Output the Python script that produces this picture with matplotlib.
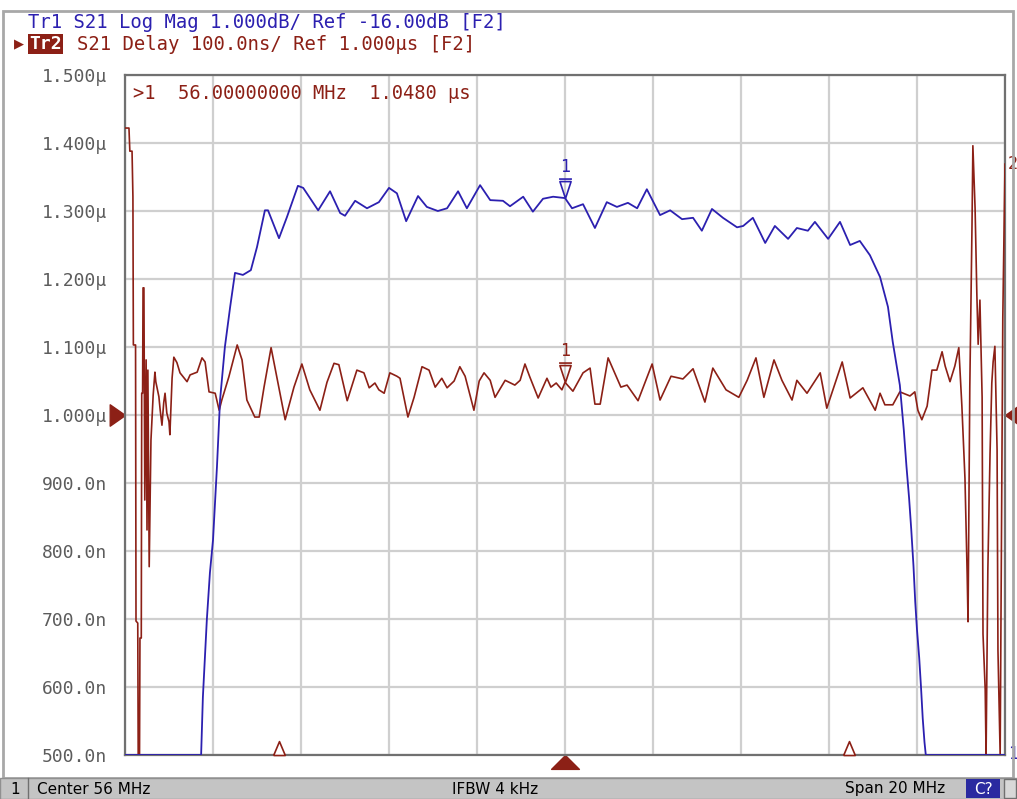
import matplotlib.pyplot as plt
import numpy as np
from matplotlib.patches import Rectangle
from matplotlib.path import Path

# Tr1: S21 log magnitude (dB)
mag_freq = [46.00, 47.73, 47.77, 47.86, 47.93, 48.00, 48.09, 48.16, 48.27, 48.39,
            48.50, 48.68, 48.86, 49.00, 49.18, 49.25, 49.50, 49.68, 49.93, 50.05,
            50.39, 50.66, 50.89, 51.00, 51.23, 51.50, 51.77, 52.00, 52.18, 52.39,
            52.66, 52.86, 53.11, 53.32, 53.57, 53.77, 54.07, 54.30, 54.59, 54.75,
            55.05, 55.27, 55.50, 55.73, 56.00, 56.16, 56.41, 56.68, 56.95, 57.18,
            57.43, 57.64, 57.86, 58.16, 58.39, 58.66, 58.91, 59.11, 59.34, 59.59,
            59.91, 60.05, 60.27, 60.55, 60.77, 61.07, 61.27, 61.52, 61.68, 61.98,
            62.25, 62.48, 62.70, 62.93, 63.16, 63.34, 63.45, 63.61, 63.70, 63.76,
            63.82, 63.87, 63.92, 63.96, 64.00, 64.05, 64.09, 64.13, 64.17, 64.20,
            66.00]
mag_db = [-21.00, -21.00, -20.15, -19.01, -18.32, -17.84, -16.76, -15.78, -15.00, -14.41,
          -13.91, -13.94, -13.87, -13.53, -12.99, -12.99, -13.40, -13.09, -12.63, -12.66,
          -12.99, -12.71, -13.03, -13.07, -12.85, -12.96, -12.87, -12.66, -12.74, -13.15,
          -12.78, -12.94, -13.00, -12.96, -12.71, -12.96, -12.62, -12.84, -12.85, -12.93,
          -12.79, -13.01, -12.82, -12.79, -12.81, -12.96, -12.90, -13.25, -12.87, -12.94,
          -12.88, -12.96, -12.68, -13.06, -12.99, -13.12, -13.10, -13.29, -12.97, -13.10,
          -13.24, -13.22, -13.10, -13.47, -13.22, -13.41, -13.25, -13.29, -13.16, -13.41,
          -13.16, -13.50, -13.44, -13.65, -13.97, -14.41, -14.93, -15.56, -16.22, -16.75,
          -17.22, -17.69, -18.22, -18.75, -19.16, -19.57, -19.99, -20.46, -20.81, -21.00,
          -21.00]

# Tr2: S21 group delay (ns)
delay_freq = [46.00, 46.09, 46.11, 46.16, 46.18, 46.19, 46.24, 46.25, 46.29, 46.30,
              46.33, 46.34, 46.37, 46.38, 46.40, 46.41, 46.43, 46.45, 46.48, 46.50,
              46.52, 46.55, 46.59, 46.64, 46.68, 46.70, 46.77, 46.80, 46.84, 46.88,
              46.91, 46.95, 47.00, 47.02, 47.07, 47.11, 47.18, 47.25, 47.41, 47.48,
              47.64, 47.75, 47.82, 47.91, 48.05, 48.14, 48.20, 48.36, 48.55, 48.66,
              48.77, 48.95, 49.05, 49.16, 49.32, 49.45, 49.64, 49.84, 50.02, 50.20,
              50.43, 50.59, 50.75, 50.86, 51.05, 51.27, 51.43, 51.55, 51.68, 51.77,
              51.89, 52.02, 52.18, 52.25, 52.43, 52.57, 52.75, 52.91, 53.05, 53.20,
              53.32, 53.48, 53.61, 53.73, 53.93, 54.05, 54.16, 54.30, 54.41, 54.64,
              54.86, 54.98, 55.09, 55.20, 55.39, 55.59, 55.68, 55.80, 55.93, 56.00,
              56.18, 56.41, 56.57, 56.68, 56.80, 56.98, 57.27, 57.41, 57.66, 57.98,
              58.16, 58.41, 58.68, 58.91, 59.18, 59.36, 59.66, 59.95, 60.14, 60.34,
              60.52, 60.75, 60.93, 61.16, 61.27, 61.50, 61.80, 61.95, 62.30, 62.48,
              62.77, 63.05, 63.16, 63.27, 63.45, 63.61, 63.84, 63.95, 64.02, 64.11,
              64.23, 64.34, 64.45, 64.57, 64.64, 64.75, 64.86, 64.95, 65.02, 65.09,
              65.14, 65.16, 65.20, 65.25, 65.27, 65.32, 65.36, 65.39, 65.43, 65.48,
              65.50, 65.55, 65.57, 65.61, 65.66, 65.70, 65.73, 65.77, 65.82, 65.84,
              65.89, 65.91, 65.95, 66.00]
delay_ns = [1422, 1422, 1388, 1388, 1321, 1103, 1103, 697, 694, 500,
            500, 672, 672, 1032, 1032, 1187, 1187, 875, 1081, 831,
            1066, 777, 963, 1029, 1063, 1049, 1027, 1007, 985, 1018,
            1032, 1003, 990, 971, 1054, 1085, 1077, 1062, 1049, 1059,
            1063, 1084, 1078, 1034, 1032, 1007, 1022, 1056, 1103, 1081,
            1022, 997, 997, 1041, 1099, 1056, 993, 1041, 1075, 1037,
            1007, 1048, 1076, 1074, 1021, 1066, 1062, 1040, 1047, 1037,
            1032, 1062, 1057, 1054, 997, 1026, 1071, 1066, 1041, 1054,
            1040, 1050, 1071, 1057, 1007, 1050, 1062, 1051, 1026, 1051,
            1044, 1051, 1075, 1056, 1025, 1054, 1041, 1047, 1037, 1048,
            1035, 1062, 1069, 1016, 1016, 1084, 1041, 1044, 1021, 1075,
            1022, 1057, 1053, 1068, 1019, 1069, 1037, 1026, 1051, 1084,
            1026, 1081, 1051, 1022, 1051, 1032, 1062, 1010, 1078, 1025,
            1040, 1007, 1032, 1015, 1015, 1034, 1028, 1034, 1007, 993,
            1013, 1066, 1066, 1093, 1072, 1049, 1072, 1099, 1013, 907,
            766, 696, 1041, 1278, 1396, 1304, 1178, 1104, 1169, 1026,
            678, 596, 500, 772, 943, 1047, 1078, 1101, 949, 654,
            500, 713, 1143, 1369]

center_mhz = 56
span_mhz = 20
marker_freq = 56.0
bw_marks = [49.5, 62.45]
delay_ref, delay_div = 1000, 100
mag_ref, mag_div = -16.0, 1.0
ref_pos = 5
y_labels = ['500.0n', '600.0n', '700.0n', '800.0n', '900.0n',
            '1.000µ', '1.100µ', '1.200µ', '1.300µ', '1.400µ', '1.500µ']

BLUE = '#2c20b0'
RED = '#8c2016'
GRAY = '#5c5c5c'
MONO = ['DejaVu Sans Mono', 'DejaVu Sans']

fig = plt.figure(figsize=(10.17, 7.99), dpi=100)
fig.patch.set_facecolor('white')
ax = fig.add_axes([125 / 1017, 44 / 799, 880 / 1017, 680 / 799])

f0, f1 = center_mhz - span_mhz / 2, center_mhz + span_mhz / 2
ax.set_xlim(f0, f1)
ax.set_ylim(delay_ref - ref_pos * delay_div, delay_ref + (10 - ref_pos) * delay_div)
ax.set_xticks(np.linspace(f0, f1, 11))
ax.set_yticks(np.linspace(delay_ref - ref_pos * delay_div, delay_ref + (10 - ref_pos) * delay_div, 11))
ax.set_xticklabels([])
ax.set_yticklabels(y_labels, family=MONO, fontsize=13, color=GRAY)
ax.tick_params(length=0, pad=13)
ax.grid(True, color='#cfcfcf', lw=1.6)
for s in ax.spines.values():
    s.set_color('#707070')
    s.set_linewidth(1.6)

ax.plot(delay_freq, delay_ns, color=RED, lw=1.2, zorder=3)

ax2 = ax.twinx()
ax2.set_ylim(mag_ref - ref_pos * mag_div, mag_ref + (10 - ref_pos) * mag_div)
ax2.set_yticks([])
for s in ax2.spines.values():
    s.set_visible(False)
ax2.plot(mag_freq, mag_db, color=BLUE, lw=1.3, zorder=3)

# marker symbol: open triangle with bar, tip at the trace point
mk = Path([(0, 0), (-0.33, 1), (0.33, 1), (0, 0), (-0.38, 1.15), (0.38, 1.15)],
          [Path.MOVETO, Path.LINETO, Path.LINETO, Path.CLOSEPOLY, Path.MOVETO, Path.LINETO])
m_delay = np.interp(marker_freq, delay_freq, delay_ns)
m_mag = np.interp(marker_freq, mag_freq, mag_db)
for a, val, c in [(ax, m_delay, RED), (ax2, m_mag, BLUE)]:
    a.plot(marker_freq, val, marker=mk, ms=28, mfc='none', mec=c, mew=1.2, zorder=4)
    a.annotate('1', (marker_freq, val), xytext=(0, 16), textcoords='offset points',
               ha='center', va='bottom', color=c, family=MONO, fontsize=12)

ax.text(8 / 880, 0.973, f'>1  {marker_freq:.8f} MHz  {m_delay / 1000:.4f} µs',
        transform=ax.transAxes, color=RED, family=MONO, fontsize=13.5, va='center')

# open triangles on the bottom line
tri_up = Path([(-0.42, 0), (0.42, 0), (0, 1), (-0.42, 0)])
ax.plot(bw_marks, [0] * len(bw_marks), transform=ax.get_xaxis_transform(), ls='none',
        marker=tri_up, ms=20, mfc='white', mec=RED, mew=1.2, clip_on=False, zorder=5)

# stimulus / reference indicators outside the grid
tri_below = Path([(0, 0), (-1, -1), (1, -1), (0, 0)])
ax.plot([center_mhz], [0], transform=ax.get_xaxis_transform(), ls='none',
        marker=tri_below, ms=20, color=RED, clip_on=False)
tri_left = Path([(0, 0), (-1, 0.7), (-1, -0.7), (0, 0)])
tri_right = Path([(0, 0), (1, 0.7), (1, -0.7), (0, 0)])
ax.plot([0], [delay_ref], transform=ax.get_yaxis_transform(), ls='none',
        marker=tri_left, ms=22, color=RED, clip_on=False)
ax.plot([1], [delay_ref], transform=ax.get_yaxis_transform(), ls='none',
        marker=tri_right, ms=22, color=RED, clip_on=False)

# trace end labels
ax.annotate('2', (delay_freq[-1], delay_ns[-1]), xytext=(2, 0), textcoords='offset points',
            color=RED, family=MONO, fontsize=12, va='center', annotation_clip=False)
ax2.annotate('1', (mag_freq[-1], mag_db[-1]), xytext=(2, 1), textcoords='offset points',
             color=BLUE, family=MONO, fontsize=12, va='center', annotation_clip=False)

# header lines
fig.text(28 / 1017, 1 - 22 / 799, 'Tr1 S21 Log Mag 1.000dB/ Ref -16.00dB [F2]',
         color=BLUE, family=MONO, fontsize=13.6, va='center')
fig.text(14 / 1017, 1 - 44 / 799, '▶', color=RED, family=MONO, fontsize=12, va='center')
fig.text(29 / 1017, 1 - 44 / 799, 'Tr2', color='white', family=MONO, fontsize=13,
         va='center', fontweight='bold',
         bbox=dict(boxstyle='square,pad=0.05', fc=RED, ec='none'))
fig.text(77 / 1017, 1 - 44 / 799, 'S21 Delay 100.0ns/ Ref 1.000µs [F2]',
         color=RED, family=MONO, fontsize=13.6, va='center')

# window frame and status bar
fig.add_artist(Rectangle((3 / 1017, 21 / 799), 1010 / 1017, 767 / 799,
                         transform=fig.transFigure, fc='none', ec='#a8a8a8', lw=2))
fig.add_artist(Rectangle((0, 0), 1, 21 / 799, transform=fig.transFigure,
                         fc='#c4c4c4', ec='#909090', lw=1))
fig.add_artist(Rectangle((966 / 1017, 1 / 799), 34 / 1017, 19 / 799, transform=fig.transFigure,
                         fc='#2a2aa0', ec='none'))
fig.add_artist(Rectangle((1004 / 1017, 1 / 799), 12 / 1017, 19 / 799, transform=fig.transFigure,
                         fc='#d8d8d8', ec='#707070', lw=1))
fig.add_artist(plt.Line2D([28 / 1017] * 2, [0, 21 / 799], transform=fig.transFigure,
                          color='#707070', lw=1))
st_y = 10 / 799
fig.text(10 / 1017, st_y, '1', fontsize=11, va='center', color='black')
fig.text(37 / 1017, st_y, f'Center {center_mhz} MHz', fontsize=11, va='center', color='black')
fig.text(452 / 1017, st_y, 'IFBW 4 kHz', fontsize=11, va='center', color='black')
fig.text(845 / 1017, st_y, f'Span {span_mhz} MHz', fontsize=11, va='center', color='black')
fig.text(983 / 1017, st_y, 'C?', fontsize=11, va='center', ha='center', color='white')

fig.savefig('out.png', dpi=100)
